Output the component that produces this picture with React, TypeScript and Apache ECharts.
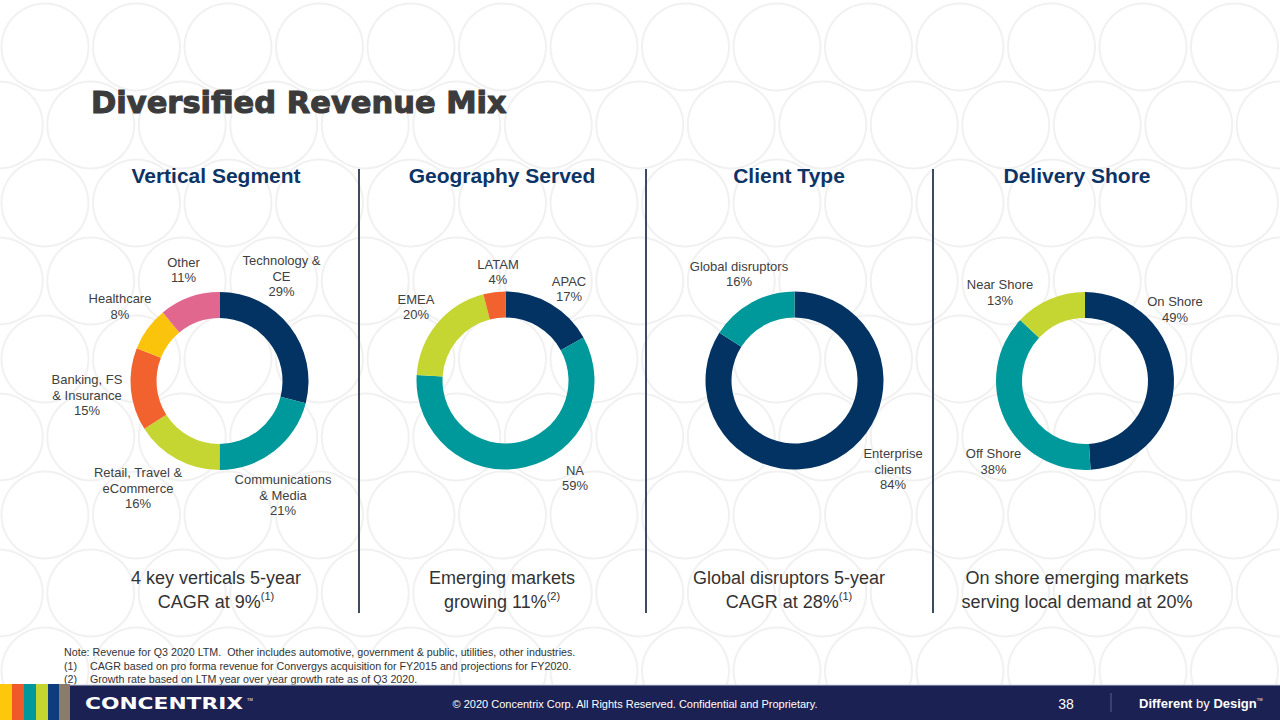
import React, { useEffect, useRef } from 'react';
import * as echarts from 'echarts';

// ---------- DATA ----------
const verticalNames = ['Technology &\nCE', 'Communications\n& Media', 'Retail, Travel &\neCommerce', 'Banking, FS\n& Insurance', 'Healthcare', 'Other'];
const verticalValues = [29, 21, 16, 15, 8, 11];

const geoNames = ['APAC', 'NA', 'EMEA', 'LATAM'];
const geoValues = [17, 59, 20, 4];

const clientNames = ['Enterprise\nclients', 'Global disruptors'];
const clientValues = [84, 16];

const shoreNames = ['On Shore', 'Off Shore', 'Near Shore'];
const shoreValues = [49, 38, 13];

const sectionTitles = ['Vertical Segment', 'Geography Served', 'Client Type', 'Delivery Shore'];

const takeaways = [
  '4 key verticals 5-year\nCAGR at 9%{sup|(1)}',
  'Emerging markets\ngrowing 11%{sup|(2)}',
  'Global disruptors 5-year\nCAGR at 28%{sup|(1)}',
  'On shore emerging markets\nserving local demand at 20%',
];

const footnoteMarks = ['', '(1)', '(2)'];
const footnoteTexts = [
  'Note: Revenue for Q3 2020 LTM.  Other includes automotive, government & public, utilities, other industries.',
  'CAGR based on pro forma revenue for Convergys acquisition for FY2015 and projections for FY2020.',
  'Growth rate based on LTM year over year growth rate as of Q3 2020.',
];

// ---------- STYLE / LAYOUT ----------
const NAVY = '#033363';
const TEAL = '#00999b';
const LIME = '#c5d632';
const ORANGE = '#f1622f';
const YELLOW = '#fbc40c';
const PINK = '#e1678f';
const FONT = '"Liberation Sans", Arial, sans-serif';

const pies = [
  {
    names: verticalNames, values: verticalValues, center: [219.5, 381],
    colors: [NAVY, TEAL, LIME, ORANGE, YELLOW, PINK],
    labelOffsets: [[62, -105], [63.5, 114], [-81.5, 107], [-132.5, 14], [-99.5, -74.5], [-36, -111]],
  },
  {
    names: geoNames, values: geoValues, center: [505.5, 380.5],
    colors: [NAVY, TEAL, LIME, ORANGE],
    labelOffsets: [[63.5, -91.5], [69.5, 97.5], [-89.5, -73.5], [-7.5, -108.5]],
  },
  {
    names: clientNames, values: clientValues, center: [794.5, 380.5],
    colors: [NAVY, TEAL],
    labelOffsets: [[98.5, 88.5], [-55.5, -106.5]],
  },
  {
    names: shoreNames, values: shoreValues, center: [1085, 381],
    colors: [NAVY, TEAL, LIME],
    labelOffsets: [[90, -71.5], [-91.5, 80.5], [-85, -88.5]],
  },
];

const colCenters = [216, 502, 789, 1077];
const dividerX = [359, 646, 933];

function buildGraphics() {
  const els: any[] = [];
  // background circle pattern
  for (let k = 0; k < 9; k++) {
    const cy = 47 + 78 * k;
    const off = k % 2 ? 45.75 : 0;
    for (let cx = 45 + off - 91.5; cx < 1330; cx += 91.5) {
      els.push({
        type: 'circle', z: -10, silent: true,
        shape: { cx, cy, r: 43.5 },
        style: { fill: 'none', stroke: '#f1f1f1', lineWidth: 2 },
      });
    }
  }
  // title
  els.push({
    type: 'text', x: 91, y: 102, z: 10,
    style: {
      text: 'Diversified Revenue Mix', fill: '#3b3b3b', stroke: '#3b3b3b', lineWidth: 1.1,
      fontSize: 30.5, fontWeight: 'bold', fontFamily: '"DejaVu Sans", sans-serif',
      align: 'left', verticalAlign: 'middle',
    },
  });
  // section titles
  sectionTitles.forEach((t, i) => {
    els.push({
      type: 'text', x: colCenters[i], y: 175.5, z: 10,
      style: { text: t, fill: '#0d3466', fontSize: 21, fontWeight: 'bold', fontFamily: FONT, align: 'center', verticalAlign: 'middle' },
    });
  });
  // dividers
  dividerX.forEach((x) => {
    els.push({
      type: 'line', z: 10, shape: { x1: x, y1: 169, x2: x, y2: 613 },
      style: { stroke: '#3d4b60', lineWidth: 2 },
    });
  });
  // takeaways
  takeaways.forEach((t, i) => {
    els.push({
      type: 'text', x: colCenters[i], y: 590, z: 10,
      style: {
        text: t, fill: '#333333', fontSize: 18, lineHeight: 24, fontFamily: FONT,
        align: 'center', verticalAlign: 'middle',
        rich: { sup: { fontSize: 11, lineHeight: 12, verticalAlign: 'top', fill: '#333333', fontFamily: FONT } },
      },
    });
  });
  // footnotes
  const fy = [652, 666, 679];
  footnoteTexts.forEach((t, i) => {
    if (footnoteMarks[i]) {
      els.push({
        type: 'text', x: 64, y: fy[i], z: 10,
        style: { text: footnoteMarks[i], fill: '#333333', fontSize: 10.7, fontFamily: FONT, align: 'left', verticalAlign: 'middle' },
      });
    }
    els.push({
      type: 'text', x: footnoteMarks[i] ? 90 : 64, y: fy[i], z: 10,
      style: { text: t, fill: '#333333', fontSize: 10.7, fontFamily: FONT, align: 'left', verticalAlign: 'middle' },
    });
  });
  // footer band
  els.push({ type: 'rect', z: 20, shape: { x: 0, y: 685, width: 1280, height: 35 }, style: { fill: '#1c2153' } });
  els.push({ type: 'line', z: 21, shape: { x1: 70, y1: 685, x2: 1280, y2: 685 }, style: { stroke: '#c9d0de', lineWidth: 1 } });
  const stripes: [number, number, string][] = [
    [0, 12, '#fdc70c'], [12, 24, '#f05a2a'], [24, 36, '#00999b'],
    [36, 48, '#c5d52f'], [48, 59, '#0f3c7e'], [59, 70, '#8a7c6b'],
  ];
  stripes.forEach(([a, b, c]) => {
    els.push({ type: 'rect', z: 22, shape: { x: a, y: 684, width: b - a, height: 36 }, style: { fill: c } });
  });
  els.push({
    type: 'text', x: 85, y: 703.5, z: 23, scaleX: 1.36,
    style: { text: 'CONCENTRIX', fill: '#ffffff', fontSize: 16, fontWeight: 'bold', fontFamily: '"DejaVu Sans", sans-serif', align: 'left', verticalAlign: 'middle' },
  });
  els.push({
    type: 'text', x: 247, y: 699, z: 23,
    style: { text: 'TM', fill: '#ffffff', fontSize: 4, fontFamily: FONT, align: 'left', verticalAlign: 'middle' },
  });
  els.push({
    type: 'text', x: 635, y: 703.5, z: 23,
    style: { text: '© 2020 Concentrix Corp. All Rights Reserved. Confidential and Proprietary.', fill: '#ffffff', fontSize: 11, fontFamily: FONT, align: 'center', verticalAlign: 'middle' },
  });
  els.push({
    type: 'text', x: 1066, y: 703.5, z: 23,
    style: { text: '38', fill: '#ffffff', fontSize: 14, fontFamily: FONT, align: 'center', verticalAlign: 'middle' },
  });
  els.push({ type: 'line', z: 23, shape: { x1: 1111, y1: 693, x2: 1111, y2: 712 }, style: { stroke: '#5a6088', lineWidth: 1 } });
  els.push({
    type: 'text', x: 1139, y: 703.5, z: 23,
    style: {
      text: '{b|Different} {r|by} {b|Design}{tm|TM}', fill: '#ffffff', fontSize: 13, fontFamily: FONT,
      align: 'left', verticalAlign: 'middle',
      rich: {
        b: { fontSize: 13, fontWeight: 'bold', fill: '#ffffff', fontFamily: FONT },
        r: { fontSize: 13, fill: '#ffffff', fontFamily: FONT },
        tm: { fontSize: 4, fill: '#ffffff', verticalAlign: 'top', lineHeight: 5, fontFamily: FONT },
      },
    },
  });
  return els;
}

function buildOption() {
  return {
    animation: false,
    backgroundColor: '#ffffff',
    graphic: { elements: buildGraphics() },
    series: pies.map((p) => ({
      type: 'pie',
      center: p.center,
      radius: [63, 89],
      startAngle: 90,
      clockwise: true,
      avoidLabelOverlap: false,
      silent: true,
      z: 5,
      data: p.names.map((n, i) => ({ name: n, value: p.values[i], itemStyle: { color: p.colors[i] } })),
      label: {
        show: true,
        position: 'outside',
        formatter: (q: any) => `${q.name}\n${q.value}%`,
        fontSize: 13,
        lineHeight: 15.5,
        color: '#404040',
        fontFamily: FONT,
        align: 'center',
      },
      labelLine: { show: false },
      labelLayout: (params: any) => {
        const off = p.labelOffsets[params.dataIndex];
        return { x: p.center[0] + off[0], y: p.center[1] + off[1], align: 'center', verticalAlign: 'middle' };
      },
      emphasis: { disabled: true },
    })),
  };
}

export default function App() {
  const ref = useRef<HTMLDivElement>(null);
  useEffect(() => {
    document.body.style.margin = '0';
    const chart = echarts.init(ref.current!, null, { renderer: 'svg', width: 1280, height: 720 });
    chart.setOption(buildOption() as any);
    return () => chart.dispose();
  }, []);
  return <div ref={ref} style={{ width: 1280, height: 720 }} />;
}
